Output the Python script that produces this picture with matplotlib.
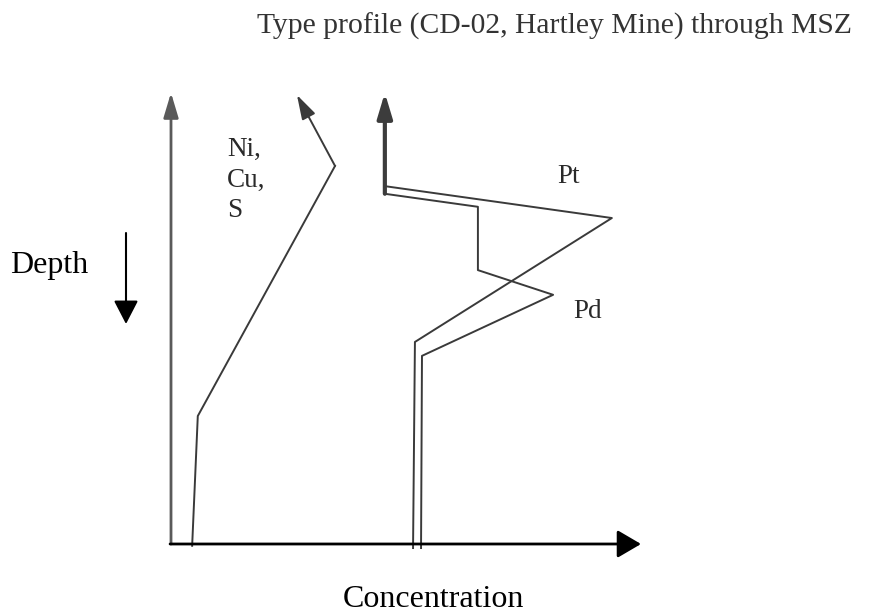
import matplotlib.pyplot as plt

# depth profile (arbitrary units: concentration 0-100, depth 0 at top, 100 at bottom)
nicus_conc = [4.5, 5.7, 34.9, 26.8]
nicus_depth = [100.4, 71.5, 15.8, 0.0]

pt_conc = [45.5, 93.8, 51.9, 51.5]
pt_depth = [20.3, 27.4, 55.0, 100.9]

pd_conc = [45.5, 65.3, 65.3, 81.3, 53.4, 53.2]
pd_depth = [22.0, 24.9, 39.0, 44.5, 58.1, 100.9]

stem_conc = 45.5
stem_depth = [22.0, 0.0]

W, H = 894, 613
serif = ['Liberation Serif', 'DejaVu Serif']
line_col = '#3a3a3a'

fig = plt.figure(figsize=(W / 100, H / 100), dpi=100)
ax = fig.add_axes([171 / W, 1 - 544 / H, 470 / W, 449 / H])
ax.set_xlim(0, 100)
ax.set_ylim(100, 0)
ax.axis('off')


def arrow(x0, y0, x1, y1, color, lw, hl, hw):
    ax.annotate('', xy=(x1, y1), xytext=(x0, y0), annotation_clip=False,
                arrowprops=dict(arrowstyle='-|>,head_length=%s,head_width=%s' % (hl, hw),
                                color=color, lw=lw, shrinkA=0, shrinkB=0,
                                mutation_scale=10))


# axes
arrow(0, 100, 0, -0.5, '#5a5a5a', 2.0, 1.5, 0.45)
arrow(-0.2, 100, 100, 100, 'black', 2.0, 1.45, 0.85)

# Ni, Cu, S curve
ax.plot(nicus_conc[:-1], nicus_depth[:-1], color=line_col, lw=1.4, clip_on=False)
arrow(nicus_conc[-2], nicus_depth[-2], nicus_conc[-1], nicus_depth[-1],
      line_col, 1.4, 1.5, 0.45)

# Pt / Pd curves with shared stem
arrow(stem_conc, stem_depth[0], stem_conc, stem_depth[1] - 0.5, '#3c3c3c', 3.0, 1.5, 0.45)
ax.plot(pt_conc, pt_depth, color=line_col, lw=1.4, clip_on=False)
ax.plot(pd_conc, pd_depth, color=line_col, lw=1.4, clip_on=False)

# labels
fig.text(852 / W, 1 - 34 / H, 'Type profile (CD-02, Hartley Mine) through MSZ',
         ha='right', va='baseline', fontsize=21.3, family=serif, color='#333333')
fig.text(227 / W, 1 - 217 / H, 'Ni,\nCu,\nS', ha='left', va='baseline',
         fontsize=19.5, family=serif, color='#2a2a2a', linespacing=1.28)
fig.text(557 / W, 1 - 183 / H, 'Pt', ha='left', va='baseline',
         fontsize=19.5, family=serif, color='#2a2a2a')
fig.text(573 / W, 1 - 318 / H, 'Pd', ha='left', va='baseline',
         fontsize=19.5, family=serif, color='#2a2a2a')
fig.text(10 / W, 1 - 273 / H, 'Depth', ha='left', va='baseline',
         fontsize=23, family=serif, color='black')
fig.text(343 / W, 1 - 607 / H, 'Concentration', ha='left', va='baseline',
         fontsize=23, family=serif, color='black')

# depth direction arrow
fig.add_artist(plt.matplotlib.patches.FancyArrowPatch(
    (126 / W, 1 - 233 / H), (126 / W, 1 - 324 / H), transform=fig.transFigure,
    arrowstyle='-|>,head_length=1.45,head_width=0.75', mutation_scale=10,
    color='black', lw=1.5, shrinkA=0, shrinkB=0))

fig.savefig('out.png', dpi=100)
